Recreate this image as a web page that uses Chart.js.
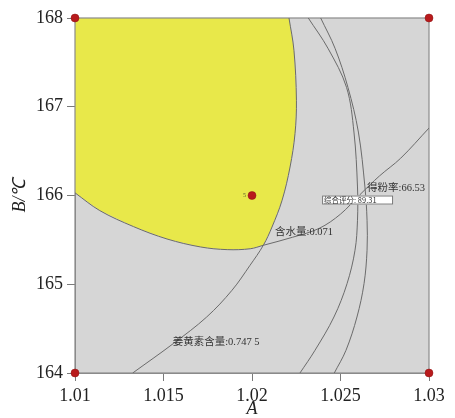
<!DOCTYPE html>
<html>
<head>
<meta charset="utf-8">
<script src="https://cdn.jsdelivr.net/npm/chart.js@4.4.0/dist/chart.umd.min.js"></script>
<style>
  html, body { margin: 0; padding: 0; background: #fff; }
  #wrap { width: 455px; height: 418px; }
</style>
</head>
<body>
<div id="wrap"><canvas id="overlay"></canvas></div>
<script>
const xTicks = [1.01, 1.015, 1.02, 1.025, 1.03];
const yTicks = [164, 165, 166, 167, 168];

// 姜黄素含量 contour, bottom to top
const curcuminA = [1.01326, 1.01555, 1.01744, 1.01887, 1.01989, 1.02064, 1.02113, 1.02170, 1.02215, 1.02243, 1.02251, 1.02237, 1.02209];
const curcuminB = [164.000, 164.331, 164.631, 164.932, 165.214, 165.439, 165.645, 165.946, 166.321, 166.697, 167.073, 167.636, 168.000];

// 含水量 contour, left to right
const moistureA = [1.0100, 1.0114, 1.0133, 1.0152, 1.0171, 1.0186, 1.0199, 1.02064, 1.0223, 1.0238, 1.0250, 1.0261, 1.0272, 1.0284, 1.0300];
const moistureB = [166.03, 165.83, 165.65, 165.51, 165.42, 165.39, 165.40, 165.439, 165.53, 165.63, 165.79, 166.01, 166.22, 166.42, 166.76];

// the two 得粉率 arcs, top to bottom
const arcB = [168.000, 167.659, 167.219, 166.715, 166.096, 165.721, 165.383, 165.007, 164.631, 164.256, 164.000];
const arcInnerA = [1.02318, 1.02429, 1.02534, 1.02576, 1.02596, 1.02596, 1.02582, 1.02537, 1.02463, 1.02356, 1.02271];
const yieldA = [1.02388, 1.02469, 1.02542, 1.02601, 1.02638, 1.02650, 1.02650, 1.02633, 1.02593, 1.02531, 1.02465];

// design points
const designA = [1.01, 1.03, 1.01, 1.03, 1.02];
const designB = [168, 168, 164, 164, 166];
const designLabels = ['', '', '', '', '5'];

const CROSS_C = 5;   // index of the crossing in curcumin arrays
const CROSS_M = 7;   // index of the crossing in moisture arrays

function pts(xs, ys) {
    return xs.map((x, i) => ({x: x, y: ys[i]}));
}

// yellow region: top-left corner, down the curcumin line, back along the moisture line
const region = [{x: xTicks[0], y: yTicks[yTicks.length - 1]}];
for (let i = curcuminA.length - 1; i >= CROSS_C; i--) region.push({x: curcuminA[i], y: curcuminB[i]});
for (let i = CROSS_M - 1; i >= 0; i--) region.push({x: moistureA[i], y: moistureB[i]});

const serif = "'Liberation Serif', 'Times New Roman', serif";
const lineColor = '#6b6b6b';

const plotBack = {
    id: 'plotBack',
    beforeDraw(chart) {
        const {ctx, chartArea: a} = chart;
        ctx.save();
        ctx.fillStyle = '#d6d6d6';
        ctx.fillRect(a.left, a.top, a.right - a.left, a.bottom - a.top);
        ctx.restore();
    },
    afterDatasetDraw(chart, args) {
        if (args.index !== 0) return;
        const {ctx, chartArea: a} = chart;
        ctx.save();
        ctx.strokeStyle = '#8a8a8a';
        ctx.lineWidth = 1.2;
        ctx.strokeRect(a.left, a.top, a.right - a.left, a.bottom - a.top);
        ctx.restore();
    },
    afterDatasetsDraw(chart) {
        const {ctx, scales: {x, y}} = chart;
        ctx.save();
        ctx.fillStyle = '#333';
        ctx.textBaseline = 'middle';
        ctx.textAlign = 'left';
        ctx.font = "10.5px 'Liberation Serif', 'Noto Sans CJK SC', serif";
        ctx.fillText('得粉率:66.53', x.getPixelForValue(1.0265), y.getPixelForValue(166.08));
        ctx.fillText('含水量:0.071', x.getPixelForValue(1.0213), y.getPixelForValue(165.585));
        ctx.fillText('姜黄素含量:0.747 5', x.getPixelForValue(1.01552), y.getPixelForValue(164.35));

        // flag box
        const bx0 = x.getPixelForValue(1.02396), bx1 = x.getPixelForValue(1.02797);
        const by0 = y.getPixelForValue(166.0), by1 = y.getPixelForValue(165.898);
        ctx.fillStyle = '#fff';
        ctx.fillRect(bx0, by0, bx1 - bx0, by1 - by0);
        ctx.strokeStyle = '#777';
        ctx.lineWidth = 1;
        ctx.strokeRect(bx0 + 0.5, by0 + 0.5, bx1 - bx0 - 1, by1 - by0 - 1);
        ctx.fillStyle = '#333';
        ctx.font = "7.5px 'Noto Sans CJK SC', sans-serif";
        ctx.fillText('综合评分: 89.31', bx0 + 2, (by0 + by1) / 2 + 0.5);

        // design point labels
        ctx.font = '6px ' + serif;
        ctx.fillStyle = '#55552a';
        ctx.textAlign = 'right';
        designLabels.forEach((t, i) => {
            if (!t) return;
            ctx.fillText(t, x.getPixelForValue(designA[i]) - 6, y.getPixelForValue(designB[i]));
        });
        ctx.restore();
    }
};

function curve(label, data) {
    return {
        label: label,
        data: data,
        showLine: true,
        borderColor: lineColor,
        borderWidth: 1,
        pointRadius: 0,
        tension: 0.35,
        fill: false,
        order: 1
    };
}

new Chart(document.getElementById('overlay'), {
    type: 'scatter',
    data: {
        datasets: [
            {
                label: 'region',
                data: region,
                showLine: true,
                borderWidth: 0,
                pointRadius: 0,
                tension: 0,
                backgroundColor: '#e8e84a',
                fill: 'shape',
                order: 2
            },
            curve('姜黄素含量', pts(curcuminA, curcuminB)),
            curve('含水量', pts(moistureA, moistureB)),
            curve('arc', pts(arcInnerA, arcB)),
            curve('得粉率', pts(yieldA, arcB)),
            {
                label: 'design',
                data: pts(designA, designB),
                showLine: false,
                pointRadius: 4,
                backgroundColor: '#b81a1c',
                borderColor: '#8c1212',
                borderWidth: 0.5,
                clip: false,
                order: 0
            }
        ]
    },
    options: {
        responsive: true,
        maintainAspectRatio: false,
        animation: false,
        layout: { padding: { top: 18, right: 26, left: 0, bottom: 0 } },
        plugins: {
            legend: { display: false },
            tooltip: { enabled: false }
        },
        scales: {
            x: {
                type: 'linear',
                min: xTicks[0],
                max: xTicks[xTicks.length - 1],
                afterBuildTicks: s => { s.ticks = xTicks.map(v => ({value: v})); },
                afterFit: s => { s.height = 45; },
                ticks: {
                    callback: v => String(v),
                    color: '#222',
                    padding: 4,
                    maxRotation: 0,
                    font: { family: serif, size: 18 }
                },
                grid: { drawOnChartArea: false, tickLength: 8, color: '#7a7a7a' },
                border: { color: '#8a8a8a' },
                title: {
                    display: true,
                    text: 'A',
                    color: '#222',
                    padding: { top: 0, bottom: -2 },
                    font: { family: serif, size: 18, style: 'italic' }
                }
            },
            y: {
                type: 'linear',
                min: yTicks[0],
                max: yTicks[yTicks.length - 1],
                afterBuildTicks: s => { s.ticks = yTicks.map(v => ({value: v})); },
                afterFit: s => { s.width = 75; },
                ticks: {
                    callback: v => String(v),
                    color: '#222',
                    padding: 4,
                    font: { family: serif, size: 18 }
                },
                grid: { drawOnChartArea: false, tickLength: 8, color: '#7a7a7a' },
                border: { color: '#8a8a8a' },
                title: {
                    display: true,
                    text: 'B/℃',
                    color: '#222',
                    padding: { top: 9, bottom: 0 },
                    font: { family: serif, size: 18, style: 'italic' }
                }
            }
        }
    },
    plugins: [plotBack]
});
</script>
</body>
</html>
